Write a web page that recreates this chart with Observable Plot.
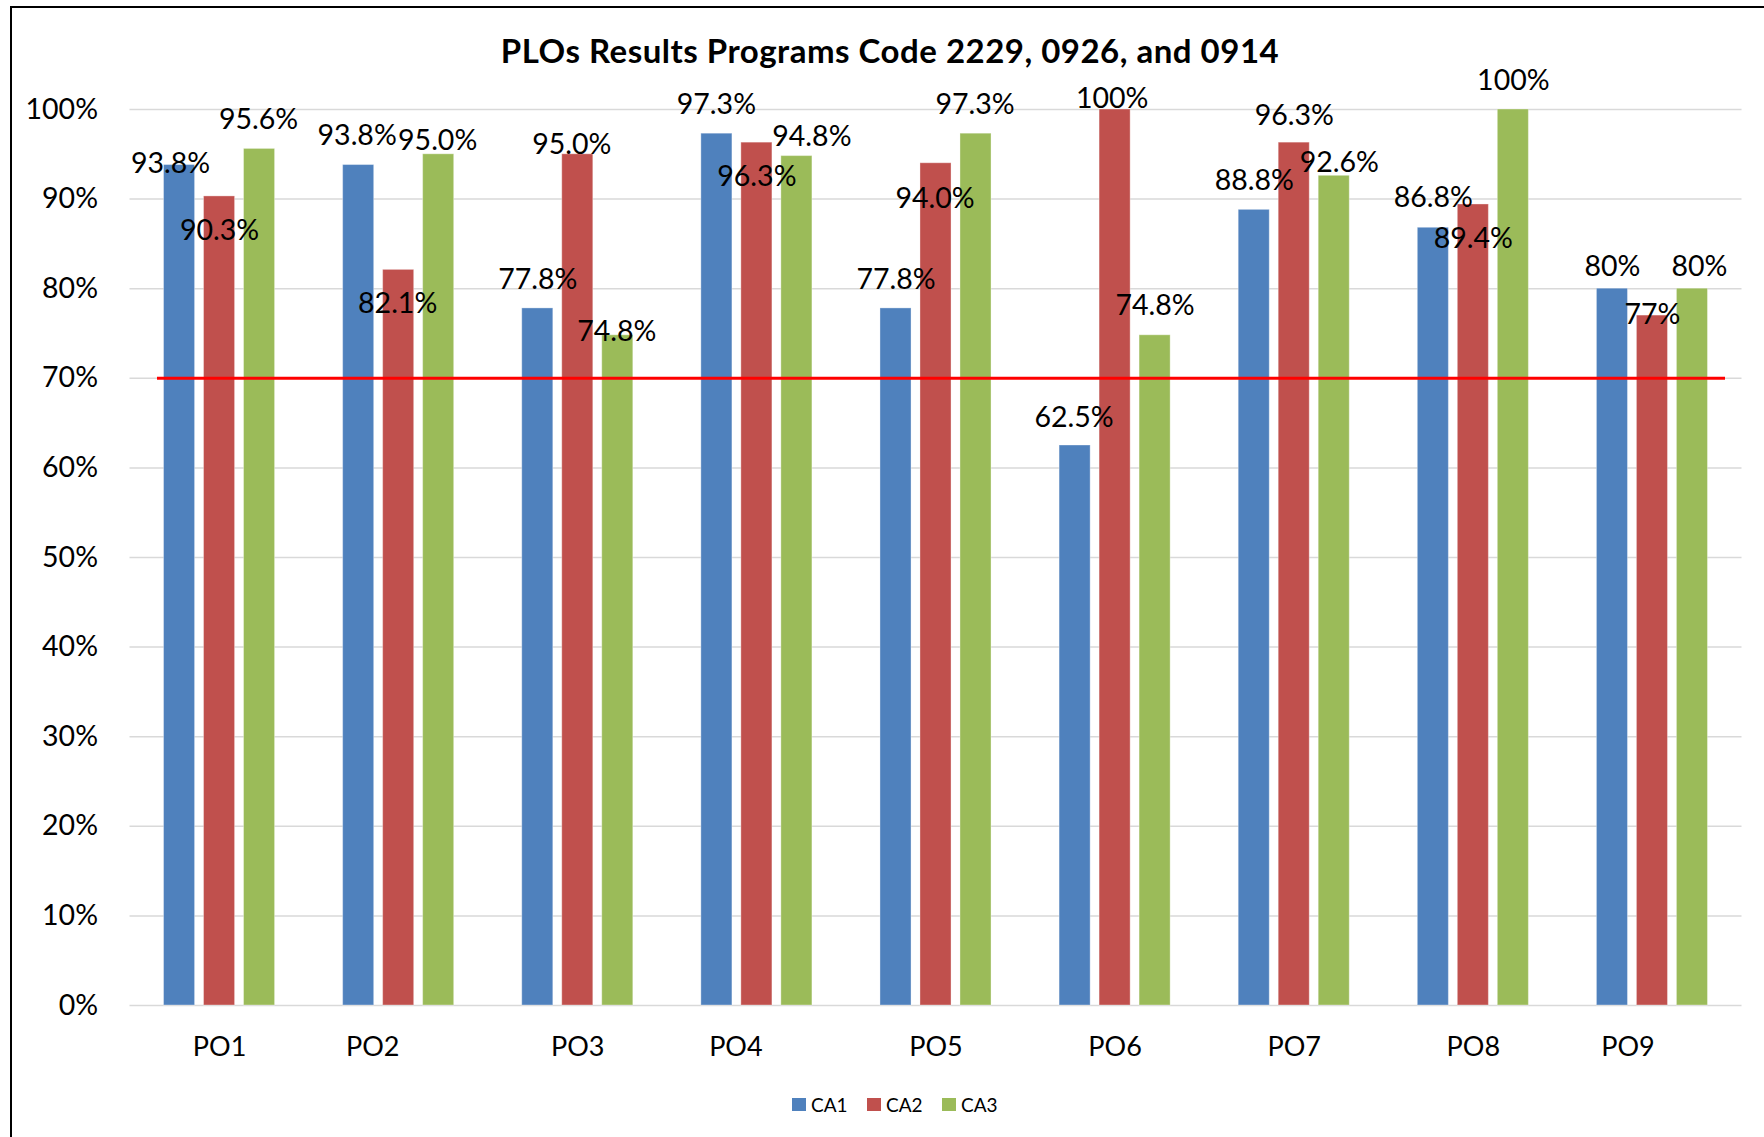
<!DOCTYPE html>
<html>
<head>
<meta charset="utf-8">
<script src="https://cdn.jsdelivr.net/npm/d3@7"></script>
<script src="https://cdn.jsdelivr.net/npm/@observablehq/plot@0.6"></script>
<style>
  html, body { margin: 0; padding: 0; width: 1764px; height: 1137px; overflow: hidden; background: #fff; }
  #frame { position: absolute; left: 10px; top: 6px; width: 1800px; height: 1200px;
           border-left: 2.5px solid #000; border-top: 2px solid #000; }
  #title { position: absolute; left: 0; top: 30px; width: 1780px; text-align: center;
           font-family: Lato, sans-serif; font-weight: bold; font-size: 33px; letter-spacing: 0.5px;
           color: #000; white-space: nowrap; }
  #chart { position: absolute; left: 0; top: 60px; }
  #legend { position: absolute; left: 792px; top: 1093px; display: flex; align-items: center;
            font-family: Lato, sans-serif; font-size: 19px; color: #000; }
  .item { width: 75px; display: flex; align-items: center; flex: none; }
  .sw { width: 14px; height: 13.5px; margin-right: 5px; flex: none; }
</style>
</head>
<body>
<div id="frame"></div>
<div id="title">PLOs Results Programs Code 2229, 0926, and 0914</div>
<div id="chart"></div>
<div id="legend"></div>
<script>
// ---- data ----
const categories = ["PO1", "PO2", "PO3", "PO4", "PO5", "PO6", "PO7", "PO8", "PO9"];
const seriesNames = ["CA1", "CA2", "CA3"];
const ca1Values = [93.8, 93.8, 77.8, 97.3, 77.8, 62.5, 88.8, 86.8, 80];
const ca2Values = [90.3, 82.1, 95.0, 96.3, 94.0, 100, 96.3, 89.4, 77];
const ca3Values = [95.6, 95.0, 74.8, 94.8, 97.3, 74.8, 92.6, 100, 80];
const ca1Labels = ["93.8%", "93.8%", "77.8%", "97.3%", "77.8%", "62.5%", "88.8%", "86.8%", "80%"];
const ca2Labels = ["90.3%", "82.1%", "95.0%", "96.3%", "94.0%", "100%", "96.3%", "89.4%", "77%"];
const ca3Labels = ["95.6%", "95.0%", "74.8%", "94.8%", "97.3%", "74.8%", "92.6%", "100%", "80%"];
const yTicks = [0, 10, 20, 30, 40, 50, 60, 70, 80, 90, 100];
const threshold = 70;

// ---- styles ----
const colors = ["#4F81BD", "#C0504D", "#9BBB59"];

const valuesBySeries = [ca1Values, ca2Values, ca3Values];
const labelsBySeries = [ca1Labels, ca2Labels, ca3Labels];
const rows = [];
seriesNames.forEach((s, si) => {
  categories.forEach((c, ci) => {
    rows.push({po: c, series: s, si, value: valuesBySeries[si][ci], label: labelsBySeries[si][ci]});
  });
});

// bar placement inside each category band (band ≈ 111px: 3 bars of 31px, gaps of 9px)
const insets = [[0, 80], [40, 40], [80, 0]];
const centerOffset = [-40, 0, 40];

// manual data-label placement (like dragged Excel labels): [dx, dy] from bar top centre
const labelNudge = {
  "PO1-CA1": [-9, -2], "PO1-CA2": [0, 33], "PO1-CA3": [-1, -30],
  "PO2-CA1": [-1.5, -30.5], "PO2-CA2": [-1, 33], "PO2-CA3": [-1, -14],
  "PO3-CA1": [0, -30], "PO3-CA2": [-6, -10], "PO3-CA3": [-1, -4],
  "PO4-CA1": [-0.5, -29.5], "PO4-CA2": [0, 33], "PO4-CA3": [15, -20.5],
  "PO5-CA1": [0, -30], "PO5-CA2": [-1, 34.5], "PO5-CA3": [-1, -30],
  "PO6-CA1": [-1, -29], "PO6-CA2": [-3, -12], "PO6-CA3": [0, -30],
  "PO7-CA1": [0, -30], "PO7-CA2": [0, -28], "PO7-CA3": [5, -13.5],
  "PO8-CA1": [0, -30.5], "PO8-CA2": [0, 33.5], "PO8-CA3": [0, -30],
  "PO9-CA1": [0, -23], "PO9-CA2": [0, -2], "PO9-CA3": [7, -23]
};
const tickShift = {PO2: -26, PO4: -21, PO9: -24.5};

const barMarks = seriesNames.map((s, si) =>
  Plot.barY(rows.filter(r => r.si === si), {
    x: "po", y: "value", fill: colors[si],
    insetLeft: insets[si][0], insetRight: insets[si][1],
    stroke: "#ffffff", strokeOpacity: 0.35, strokeWidth: 1
  })
);

const labelMarks = rows.map(r => {
  const [ndx, ndy] = labelNudge[r.po + "-" + r.series] || [0, -30];
  return Plot.text([r], {
    x: "po", y: "value", text: "label",
    dx: centerOffset[r.si] + ndx, dy: ndy + 1,
    fontSize: 28.5, fill: "#000"
  });
});

const xAxisMarks = categories.map(c =>
  Plot.axisX([c], {tickSize: 0, tickPadding: 31.5, fontSize: 27, label: null, dx: tickShift[c] || 0})
);

const chart = Plot.plot({
  width: 1764,
  height: 1015,
  marginTop: 49,
  marginBottom: 70,
  marginLeft: 129.5,
  marginRight: 22.5,
  x: {domain: categories, paddingInner: 0.38, paddingOuter: 0.19, round: false, axis: null},
  y: {domain: [0, 100], axis: null},
  style: {fontFamily: "Lato, sans-serif", background: "transparent", overflow: "visible", color: "#000"},
  marks: [
    Plot.gridY(yTicks, {stroke: "#d9d9d9", strokeOpacity: 1, strokeWidth: 1.5}),
    Plot.axisY(yTicks, {tickSize: 0, tickPadding: 32, tickFormat: d => d + "%", fontSize: 28.5, label: null}),
    ...barMarks,
    Plot.ruleY([threshold], {stroke: "#ff0000", strokeWidth: 3, insetLeft: 27.5, insetRight: 16.5}),
    ...xAxisMarks,
    ...labelMarks
  ]
});
document.getElementById("chart").appendChild(chart);

// legend
const legend = document.getElementById("legend");
seriesNames.forEach((s, si) => {
  const item = document.createElement("div");
  item.className = "item";
  const sw = document.createElement("div");
  sw.className = "sw";
  sw.style.background = colors[si];
  const t = document.createElement("span");
  t.textContent = s;
  item.appendChild(sw);
  item.appendChild(t);
  legend.appendChild(item);
});
</script>
</body>
</html>
